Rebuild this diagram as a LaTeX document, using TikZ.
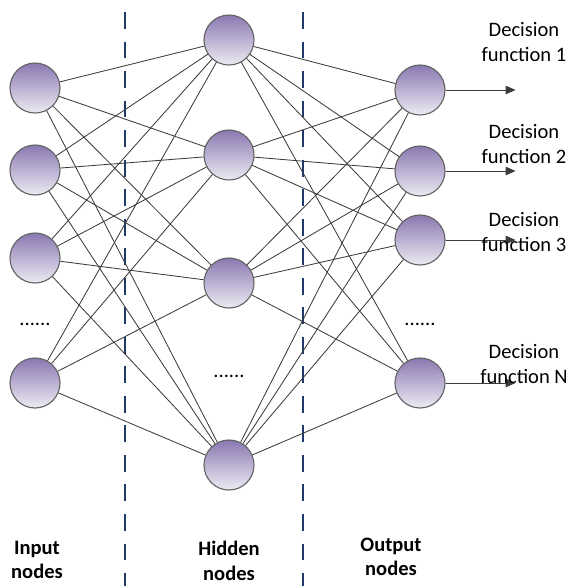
\documentclass[tikz,border=0pt]{standalone}
\usepackage{fontspec}
\setmainfont{Carlito}
\usetikzlibrary{arrows.meta, calc}

\definecolor{nodetop}{HTML}{8A78B2}
\definecolor{nodebot}{HTML}{EDEBF2}
\definecolor{sepblue}{HTML}{1F3A6A}
\definecolor{linegray}{HTML}{3C3C3C}

\tikzset{
    neuron/.style={circle, draw=linegray!80, line width=0.8pt, minimum size=1.25cm, inner sep=0pt,
        top color=nodetop, bottom color=nodebot},
    link/.style={draw=linegray, line width=0.6pt},
    label/.style={font=\fontsize{14.6}{17.5}\selectfont, align=center, inner sep=0pt}
}

\begin{document}
\begin{tikzpicture}[x=0.025cm, y=-0.025cm]
    \useasboundingbox (0,0) rectangle (567,586);
    \draw [sepblue, line width=1pt, dash pattern=on 12pt off 9pt] (125,12) -- (125,586);
    \draw [sepblue, line width=1pt, dash pattern=on 12pt off 9pt] (303,12) -- (303,586);

    \node [neuron] (in1) at (35,88) {};
    \node [neuron] (in2) at (35,170) {};
    \node [neuron] (in3) at (35,258) {};
    \node [neuron] (in4) at (35,383) {};
    \node [neuron] (hid1) at (229,40) {};
    \node [neuron] (hid2) at (229,155) {};
    \node [neuron] (hid3) at (229,283) {};
    \node [neuron] (hid4) at (229,465) {};
    \node [neuron] (out1) at (420,90) {};
    \node [neuron] (out2) at (420,171) {};
    \node [neuron] (out3) at (420,240) {};
    \node [neuron] (out4) at (420,383) {};

    \foreach \i in {1,...,4}
        \foreach \j in {1,...,4} {
            \draw [link] (in\i) -- (hid\j);
            \draw [link] (hid\j) -- (out\i);
        }

    \foreach \i/\k/\y in {1/1/42, 2/2/144, 3/3/232, 4/N/364} {
        \coordinate (tip\i) at ($(out\i.east) + (70,0)$);
        \draw [link, -{Triangle[length=7pt, width=6pt]}] (out\i) -- (tip\i);
        \node [label] at (524,\y) {Decision\\function \k};
    }

    \node [label] at (35,324) {......};
    \node [label] at (229,376) {......};
    \node [label] at (420,324) {......};

    \node [label, font=\fontsize{14.6}{17.5}\selectfont\bfseries] at (37,560) {Input\\nodes};
    \node [label, font=\fontsize{14.6}{17.5}\selectfont\bfseries] at (229,561) {Hidden\\nodes};
    \node [label, font=\fontsize{14.6}{17.5}\selectfont\bfseries] at (391,557) {Output\\nodes};
\end{tikzpicture}
\end{document}
